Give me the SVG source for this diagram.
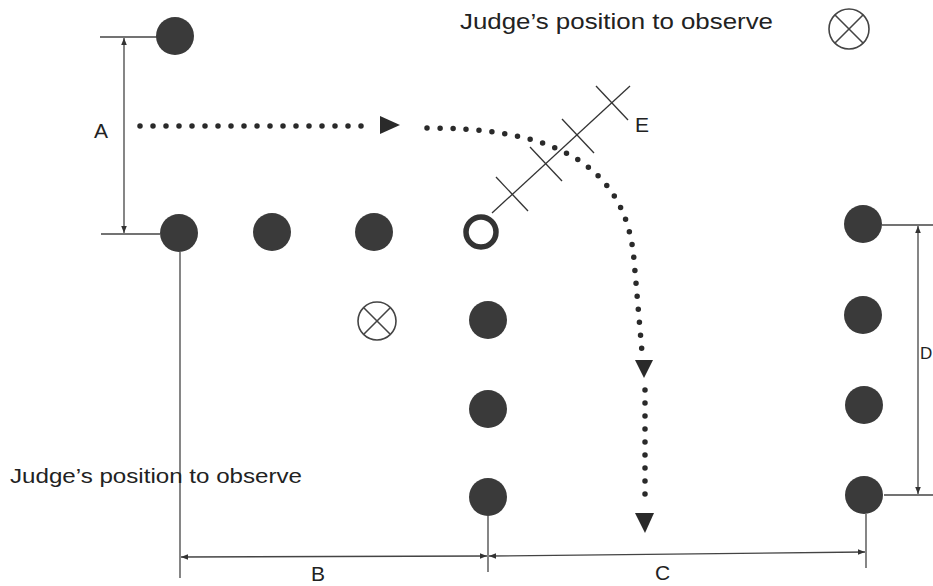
<svg xmlns="http://www.w3.org/2000/svg" width="933" height="586" viewBox="0 0 933 586">
<style>
.cone{fill:#3a3a3a}
.hollow{fill:none;stroke:#333;stroke-width:5.5}
.judge{fill:none;stroke:#444;stroke-width:1.6}
.dim{fill:none;stroke:#444;stroke-width:1.3}
.dots{fill:none;stroke:#2a2a2a;stroke-width:5.5;stroke-linecap:round;stroke-dasharray:0 13}
.head{fill:#2a2a2a}
.lbl{font-family:"Liberation Sans",Arial,sans-serif;fill:#222}
.cross{fill:none;stroke:#333;stroke-width:1.3}
</style>
<defs>
<marker id="ah" viewBox="0 0 10 10" refX="10" refY="5" markerWidth="7" markerHeight="7" orient="auto-start-reverse" markerUnits="userSpaceOnUse">
<path d="M0,1 L10,5 L0,9 Z" fill="#333"/>
</marker>
</defs>
<rect width="933" height="586" fill="#fff"/>
<g id="connectors">
<line class="dim" x1="100" y1="37" x2="157" y2="37"/>
<line class="dim" x1="101" y1="234" x2="160" y2="234"/>
<line class="dim" x1="124" y1="38" x2="124" y2="233" marker-start="url(#ah)" marker-end="url(#ah)"/>
<line class="dim" x1="882" y1="225" x2="933" y2="225"/>
<line class="dim" x1="884" y1="495" x2="933" y2="495"/>
<line class="dim" x1="918" y1="226" x2="918" y2="494" marker-start="url(#ah)" marker-end="url(#ah)"/>
<line class="dim" x1="180" y1="252" x2="180" y2="578"/>
<line class="dim" x1="488" y1="516" x2="488" y2="572"/>
<line class="dim" x1="866" y1="514" x2="866" y2="568"/>
<line class="dim" x1="181" y1="557" x2="487" y2="556" marker-start="url(#ah)" marker-end="url(#ah)"/>
<line class="dim" x1="489" y1="556" x2="865" y2="552" marker-start="url(#ah)" marker-end="url(#ah)"/>
<line class="cross" x1="492" y1="213" x2="630" y2="86"/>
<line class="cross" x1="496" y1="177" x2="528" y2="211"/>
<line class="cross" x1="530" y1="147" x2="562" y2="181"/>
<line class="cross" x1="562" y1="119" x2="594" y2="153"/>
<line class="cross" x1="596" y1="86" x2="628" y2="120"/>
<line class="dots" x1="140" y1="126" x2="372" y2="126"/>
<polygon class="head" points="380,116 400,125 380,134"/>
<path class="dots" d="M427,128 C530,128 625,150 634,260 L642,352"/>
<polygon class="head" points="635,360 653,360 644,378"/>
<line class="dots" x1="645" y1="390" x2="645" y2="505"/>
<polygon class="head" points="635,513 654,513 645,533"/>
</g>
<g id="cone-top"><circle class="cone" cx="175" cy="36" r="19"/></g>
<g id="cone-row1"><circle class="cone" cx="179" cy="233" r="19"/></g>
<g id="cone-row2"><circle class="cone" cx="272" cy="232" r="19"/></g>
<g id="cone-row3"><circle class="cone" cx="374" cy="232" r="19"/></g>
<g id="cone-hollow"><circle class="hollow" cx="481" cy="232" r="15"/></g>
<g id="cone-col1"><circle class="cone" cx="488" cy="320" r="19"/></g>
<g id="cone-col2"><circle class="cone" cx="488" cy="409" r="19"/></g>
<g id="cone-col3"><circle class="cone" cx="488" cy="497" r="19"/></g>
<g id="cone-right1"><circle class="cone" cx="863" cy="224" r="19"/></g>
<g id="cone-right2"><circle class="cone" cx="863" cy="315" r="19"/></g>
<g id="cone-right3"><circle class="cone" cx="864" cy="405" r="19"/></g>
<g id="cone-right4"><circle class="cone" cx="864" cy="495" r="19"/></g>
<g id="judge-mid">
<circle class="judge" cx="377" cy="321" r="19"/>
<line class="judge" x1="364" y1="308" x2="390" y2="334"/>
<line class="judge" x1="390" y1="308" x2="364" y2="334"/>
</g>
<g id="judge-top">
<circle class="judge" cx="849" cy="29" r="20"/>
<line class="judge" x1="835" y1="15" x2="863" y2="43"/>
<line class="judge" x1="863" y1="15" x2="835" y2="43"/>
</g>
<g id="labels">
<text class="lbl" x="460" y="29" font-size="22" textLength="313" lengthAdjust="spacingAndGlyphs">Judge’s position to observe</text>
<text class="lbl" x="10" y="483" font-size="21" textLength="292" lengthAdjust="spacingAndGlyphs">Judge’s position to observe</text>
<text class="lbl" x="94" y="138" font-size="21">A</text>
<text class="lbl" x="311" y="581" font-size="21">B</text>
<text class="lbl" x="655" y="580" font-size="21">C</text>
<text class="lbl" x="920" y="359" font-size="17">D</text>
<text class="lbl" x="635" y="132" font-size="21">E</text>
</g>
</svg>
